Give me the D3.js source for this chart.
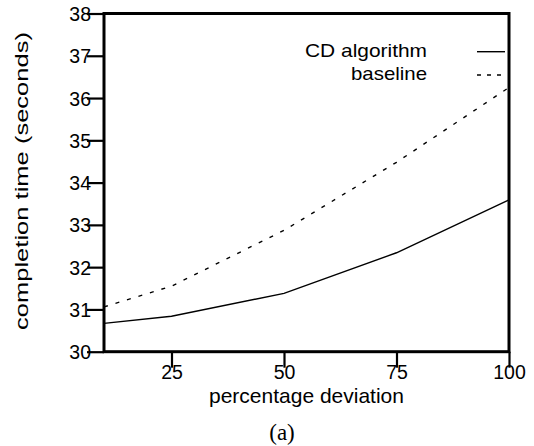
<!DOCTYPE html>
<html><head><meta charset="utf-8">
<script src="https://cdn.jsdelivr.net/npm/d3@7"></script>
<style>body{margin:0;background:#fff}svg{display:block}text{font-family:"Liberation Sans",Arial,sans-serif;fill:#000}</style>
</head><body>
<script>
const deviation = [10, 25, 50, 75, 100];
const cdAlgorithm = [30.67, 30.84, 31.38, 32.34, 33.59];
const baseline = [31.06, 31.55, 32.87, 34.48, 36.25];
const xTicks = [25, 50, 75, 100];
const yTicks = [30, 31, 32, 33, 34, 35, 36, 37, 38];
const seriesNames = ["CD algorithm", "baseline"];

const W = 534, H = 446;
const m = {left: 104, right: 25, top: 13.5, bottom: 94.3};
const svg = d3.select("body").append("svg").attr("width", W).attr("height", H);
const x = d3.scaleLinear().domain([10, 100]).range([m.left, W - m.right]);
const y = d3.scaleLinear().domain([30, 38]).range([H - m.bottom, m.top]);

const line = d3.line().x((d, i) => x(deviation[i])).y(d => y(d));

svg.append("path").datum(baseline).attr("d", line)
  .attr("fill", "none").attr("stroke", "#000").attr("stroke-width", 1.4).attr("stroke-dasharray", "4,8");
svg.append("path").datum(cdAlgorithm).attr("d", line)
  .attr("fill", "none").attr("stroke", "#000").attr("stroke-width", 1.4);

// frame
svg.append("rect").attr("x", x(10)).attr("y", y(38)).attr("width", x(100) - x(10)).attr("height", y(30) - y(38))
  .attr("fill", "none").attr("stroke", "#000").attr("stroke-width", 3);

const yAxis = svg.append("g").attr("transform", `translate(${x(10)},0)`)
  .call(d3.axisLeft(y).tickValues(yTicks).tickSize(17).tickPadding(-4).tickFormat(d3.format("d")));
const xAxis = svg.append("g").attr("transform", `translate(0,${y(30)})`)
  .call(d3.axisBottom(x).tickValues(xTicks).tickSize(16).tickPadding(-3).tickFormat(d3.format("d")));
[yAxis, xAxis].forEach(g => {
  g.select(".domain").remove();
  g.selectAll(".tick line").attr("stroke", "#000").attr("stroke-width", 2.2);
  g.selectAll(".tick text").attr("font-size", 19.5).attr("font-family", "Liberation Sans, Arial, sans-serif").attr("fill", "#000");
});
yAxis.selectAll(".tick text").attr("dy", "0.36em");
xAxis.selectAll(".tick text").attr("dy", "0.71em");

// axis labels
svg.append("text").attr("x", (x(10) + x(100)) / 2).attr("y", 402.7).attr("text-anchor", "middle")
  .attr("font-size", 21).text("percentage deviation");
svg.append("text").attr("transform", `translate(28,181) rotate(-90)`).attr("text-anchor", "middle")
  .attr("font-size", 18).attr("textLength", 298).attr("lengthAdjust", "spacingAndGlyphs")
  .text("completion time (seconds)");
svg.append("text").attr("x", 282).attr("y", 440).attr("text-anchor", "middle")
  .attr("font-size", 23).style("font-family", "Liberation Serif, Times New Roman, serif").text("(a)");

// legend
const leg = [{name: seriesNames[0], ty: 56.7, ly: 51.7, dash: null, len: 122},
             {name: seriesNames[1], ty: 80, ly: 75, dash: "4,6", len: 76}];
leg.forEach(l => {
  svg.append("text").attr("x", 427).attr("y", l.ty).attr("text-anchor", "end")
    .attr("font-size", 19).attr("textLength", l.len).attr("lengthAdjust", "spacingAndGlyphs").text(l.name);
  svg.append("line").attr("x1", 477).attr("x2", 505).attr("y1", l.ly).attr("y2", l.ly)
    .attr("stroke", "#000").attr("stroke-width", 1.4).attr("stroke-dasharray", l.dash);
});
</script>
</body></html>
